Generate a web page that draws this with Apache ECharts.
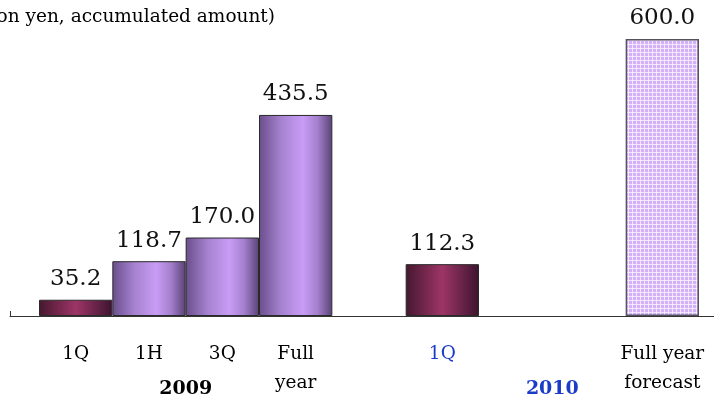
<!DOCTYPE html>
<html lang="en">
<head>
    <meta charset="UTF-8">
    <title>Accumulated amount</title>
    <script src="https://cdn.jsdelivr.net/npm/echarts@6/dist/echarts.min.js"></script>
    <style>
        * { margin: 0; padding: 0; box-sizing: border-box; }
        body { background: #fff; }
        #chart { width: 714px; height: 403px; }
    </style>
</head>
<body>
    <div id="chart"></div>
    <script>
        // data
        const categories = ['1Q', '1H', '3Q', 'Full\nyear', '', '1Q', '', '', 'Full year\nforecast'];
        const values = [35.2, 118.7, 170.0, 435.5, null, 112.3, null, null, 600.0];
        const barKinds = ['quarter', 'cumul', 'cumul', 'cumul', null, 'quarter', null, null, 'forecast'];
        const blueLabels = [5];
        const yearLabels = ['2009', '2010'];
        const yearBetween = [[1, 2], [6, 7]];   // year label sits between these categories
        const yearColors = ['#000000', '#1a3cc8'];
        const unitText = '(Billion yen, accumulated amount)';

        const serif = '"DejaVu Serif", "Liberation Serif", serif';

        const maroon = new echarts.graphic.LinearGradient(0, 0, 1, 0, [
            { offset: 0, color: '#45172f' },
            { offset: 0.5, color: '#9d3566' },
            { offset: 1, color: '#3d1430' }
        ]);
        const purple = new echarts.graphic.LinearGradient(0, 0, 1, 0, [
            { offset: 0, color: '#6a4e8c' },
            { offset: 0.3, color: '#a682cf' },
            { offset: 0.6, color: '#c99cf6' },
            { offset: 0.8, color: '#a37fcc' },
            { offset: 1, color: '#5a4276' }
        ]);

        // lattice tile for the forecast bar: lavender blocks on pale lines
        const tile = document.createElement('canvas');
        tile.width = 8; tile.height = 8;
        const tc = tile.getContext('2d');
        tc.fillStyle = '#f2e7fd';
        tc.fillRect(0, 0, 8, 8);
        tc.fillStyle = '#d3b0f8';
        [[1, 1], [5, 1], [1, 5], [5, 5]].forEach(([x, y]) => tc.fillRect(x, y, 3, 3));
        tc.fillStyle = '#fbf7ff';
        [[0, 0], [4, 4]].forEach(([x, y]) => tc.fillRect(x, y, 1, 1));

        const fills = { quarter: maroon, cumul: purple, forecast: { image: tile, repeat: 'repeat' } };

        const barData = values.map((v, i) => ({
            value: v,
            itemStyle: barKinds[i] ? {
                color: fills[barKinds[i]],
                borderColor: barKinds[i] === 'forecast' ? '#55525e' : '#2a2a2a',
                borderWidth: barKinds[i] === 'forecast' ? 1.5 : 1
            } : undefined
        }));

        const chart = echarts.init(document.getElementById('chart'));
        chart.setOption({
            animation: false,
            grid: [
                { left: 39, right: 15, top: 39, bottom: 87 },
                { left: 10, right: 0, top: 39, bottom: 87 }
            ],
            xAxis: [{
                type: 'category',
                gridIndex: 0,
                data: categories,
                axisLine: { show: false },
                axisTick: { show: false },
                axisLabel: {
                    interval: 0,
                    margin: 24,
                    fontFamily: serif,
                    fontSize: 18.5,
                    lineHeight: 29,
                    color: (val, idx) => blueLabels.includes(idx) ? '#1a3cc8' : '#000'
                }
            }, {
                type: 'value',
                gridIndex: 1,
                min: 0,
                max: 1,
                splitNumber: 1,
                axisLine: { show: true, lineStyle: { color: '#333', width: 1 } },
                axisTick: { show: true, inside: true, length: 5, lineStyle: { color: '#333' } },
                axisLabel: { show: false },
                splitLine: { show: false }
            }],
            yAxis: [{
                type: 'value',
                gridIndex: 0,
                min: 0,
                max: 600,
                show: false
            }, {
                type: 'value',
                gridIndex: 1,
                min: 0,
                max: 600,
                show: false
            }],
            series: [{
                type: 'bar',
                xAxisIndex: 0,
                yAxisIndex: 0,
                data: barData,
                barCategoryGap: 0,
                label: {
                    show: true,
                    position: 'top',
                    distance: 9,
                    fontFamily: serif,
                    fontSize: 23,
                    color: '#111',
                    formatter: p => p.value == null ? '' : p.value.toFixed(1)
                }
            }]
        });

        const graphics = [{
            type: 'text',
            x: 275,
            y: 17,
            style: {
                text: unitText,
                font: '18.5px ' + serif,
                fill: '#000',
                textAlign: 'right',
                textVerticalAlign: 'middle'
            }
        }];
        yearLabels.forEach((label, k) => {
            const a = chart.convertToPixel({ xAxisIndex: 0 }, yearBetween[k][0]);
            const b = chart.convertToPixel({ xAxisIndex: 0 }, yearBetween[k][1]);
            graphics.push({
                type: 'text',
                x: (a + b) / 2,
                y: 389,
                style: {
                    text: label,
                    font: 'bold 19px ' + serif,
                    fill: yearColors[k],
                    textAlign: 'center',
                    textVerticalAlign: 'middle'
                }
            });
        });
        chart.setOption({ graphic: graphics });
    </script>
</body>
</html>
